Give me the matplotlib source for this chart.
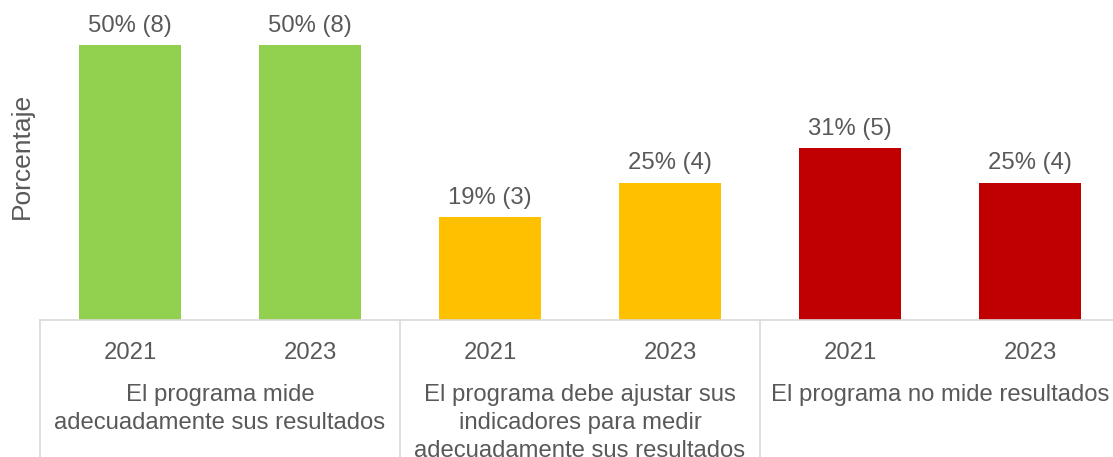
import matplotlib
matplotlib.use("Agg")
import matplotlib.pyplot as plt
from matplotlib.lines import Line2D

plt.rcParams['font.family'] = ['Liberation Sans', 'DejaVu Sans']

years = ['2021', '2023', '2021', '2023', '2021', '2023']
values = [50, 50, 18.75, 25, 31.25, 25]
counts = [8, 8, 3, 4, 5, 4]
labels = ['50% (8)', '50% (8)', '19% (3)', '25% (4)', '31% (5)', '25% (4)']
groups = ['El programa mide\nadecuadamente sus resultados',
          'El programa debe ajustar sus\nindicadores para medir\nadecuadamente sus resultados',
          'El programa no mide resultados']
colors = ['#92D050', '#92D050', '#FFC000', '#FFC000', '#C00000', '#C00000']

W, H = 1113, 457
txt = '#595959'
line_col = '#D9D9D9'
fs = 17.2

fig = plt.figure(figsize=(W / 100, H / 100), dpi=100)
# plot area in pixels: x 40..1120, y 45..320
ax = fig.add_axes([40 / W, (H - 320) / H, 1080 / W, 275 / H])
x = list(range(len(values)))
ax.bar(x, values, width=0.572, color=colors)
ax.set_xlim(-0.5, 5.5)
ax.set_ylim(0, 50)
for s in ['top', 'left', 'right']:
    ax.spines[s].set_visible(False)
ax.spines['bottom'].set_color(line_col)
ax.spines['bottom'].set_linewidth(1.2)
ax.set_xticks([])
ax.set_yticks([])

for xi, v, lab in zip(x, values, labels):
    ax.annotate(lab, (xi, v), xytext=(0, 6), textcoords='offset points',
                ha='center', va='bottom', fontsize=fs, color=txt)

def ay(py):
    return (320 - py) / 275

tr = ax.get_xaxis_transform()
for xi, y in zip(x, years):
    ax.text(xi, ay(359), y, transform=tr, ha='center', va='baseline',
            fontsize=fs, color=txt, clip_on=False)

for gi, g in enumerate(groups):
    ax.text(2 * gi + 0.5, ay(384), g, transform=tr, ha='center', va='top',
            fontsize=fs, color=txt, linespacing=1.36, clip_on=False)

for px in [40, 400, 760, 1120]:
    fig.add_artist(Line2D([px / W, px / W], [0, (H - 320) / H],
                          color=line_col, linewidth=1.2))

fig.text(22 / W, 1 - 156 / H, 'Porcentaje', rotation=90, ha='center',
         va='center', fontsize=19, color=txt)

plt.savefig('out.png', dpi=100)
